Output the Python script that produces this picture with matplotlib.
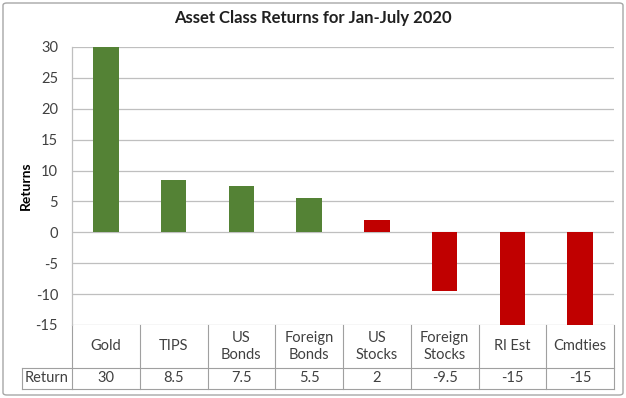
import matplotlib
matplotlib.use("Agg")
import matplotlib.pyplot as plt
from matplotlib.patches import FancyBboxPatch
import matplotlib.transforms as mtrans

categories = ["Gold", "TIPS", "US\nBonds", "Foreign\nBonds", "US\nStocks", "Foreign\nStocks", "Rl Est", "Cmdties"]
values = [30, 8.5, 7.5, 5.5, 2, -9.5, -15, -15]
value_labels = ["30", "8.5", "7.5", "5.5", "2", "-9.5", "-15", "-15"]
colors = ["#548235"] * 4 + ["#C00000"] * 4
yticks = [-15, -10, -5, 0, 5, 10, 15, 20, 25, 30]

plt.rcParams['font.family'] = ['Lato', 'DejaVu Sans']

W, H = 626, 398
fig = plt.figure(figsize=(W / 100, H / 100), dpi=100)

# outer border
fig.patches.append(FancyBboxPatch((3 / W, 3 / H), 1 - 6 / W, 1 - 6 / H,
                                  boxstyle="round,pad=0,rounding_size=0.006",
                                  transform=fig.transFigure, fill=False,
                                  edgecolor="#A6A6A6", lw=1.0))

left, right, top, bottom = 72, 614, 47, 325
ax = fig.add_axes([left / W, 1 - bottom / H, (right - left) / W, (bottom - top) / H])

n = len(categories)
x = list(range(n))
ax.bar(x, values, width=0.38, color=colors, zorder=3)
ax.set_xlim(-0.5, n - 0.5)
ax.set_ylim(-15, 30)
ax.set_yticks(yticks)
ax.set_yticklabels([str(t) for t in yticks], fontsize=10.5, color="#404040")
ax.tick_params(axis='y', length=0, pad=10)
ax.set_xticks([])
ax.grid(axis='y', color="#BFBFBF", lw=0.9, zorder=0)
for s in ["top", "right", "bottom"]:
    ax.spines[s].set_visible(False)
ax.spines["left"].set_color("#BFBFBF")
ax.spines["left"].set_linewidth(0.9)
ax.set_ylabel("Returns", fontsize=10, fontweight="bold")
ax.yaxis.set_label_coords((32 - left) / (right - left), 0.5)

fig.text(0.5, 1 - 18 / H, "Asset Class Returns for Jan-July 2020", ha="center", va="center",
         fontsize=12, fontweight="bold", color="#202020")

# data table
trans = mtrans.blended_transform_factory(ax.transData, fig.transFigure)
y_top = 1 - bottom / H
y_mid = 1 - 368 / H
y_bot = 1 - 389 / H
lc = "#A0A0A0"
for i in range(n + 1):
    ax.plot([i - 0.5, i - 0.5], [y_top, y_bot], color=lc, lw=0.8, transform=trans, clip_on=False)
ax.plot([-0.5, n - 0.5], [y_mid, y_mid], color=lc, lw=0.8, transform=trans, clip_on=False)
ax.plot([-0.5, n - 0.5], [y_bot, y_bot], color=lc, lw=0.8, transform=trans, clip_on=False)
# row label cell
lx = 22 / W
fig.add_artist(plt.Line2D([lx, left / W], [y_mid, y_mid], color=lc, lw=0.8))
fig.add_artist(plt.Line2D([lx, left / W], [y_bot, y_bot], color=lc, lw=0.8))
fig.add_artist(plt.Line2D([lx, lx], [y_mid, y_bot], color=lc, lw=0.8))
fig.text((lx + left / W) / 2, (y_mid + y_bot) / 2, "Return", ha="center", va="center",
         fontsize=10.5, color="#404040")
for i in range(n):
    ax.text(i, (y_top + y_mid) / 2, categories[i], ha="center", va="center", fontsize=10.5,
            color="#404040", transform=trans, linespacing=1.2)
    ax.text(i, (y_mid + y_bot) / 2, value_labels[i], ha="center", va="center", fontsize=10.5,
            color="#404040", transform=trans)

fig.savefig("out.png", dpi=100)
